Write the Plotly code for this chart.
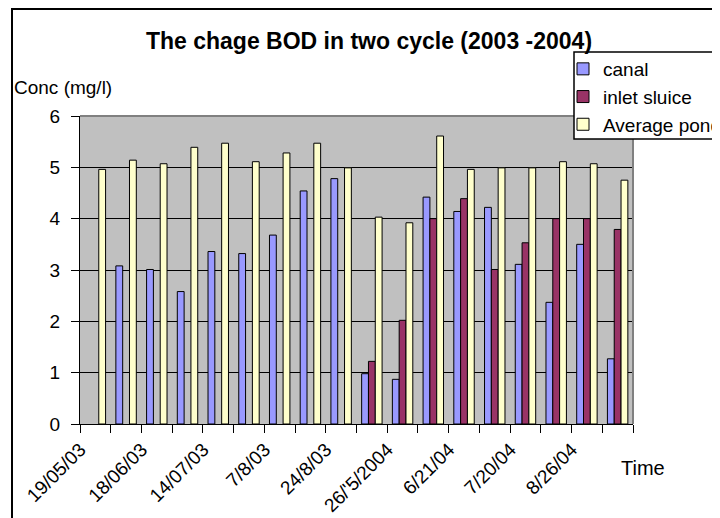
import plotly.graph_objects as go

# ---- data ----
tick_labels = ["19/05/03", "18/06/03", "14/07/03", "7/8/03", "24/8/03",
               "26/'5/2004", "6/21/04", "7/20/04", "8/26/04"]
canal = [None, 3.08, 3.01, 2.58, 3.36, 3.32, 3.68, 4.54, 4.78,
         0.98, 0.87, 4.42, 4.14, 4.22, 3.11, 2.37, 3.50, 1.27]
inlet_sluice = [None, None, None, None, None, None, None, None, None,
                1.22, 2.02, 4.00, 4.39, 3.01, 3.53, 4.00, 4.00, 3.79]
average_pond = [4.96, 5.14, 5.07, 5.39, 5.47, 5.11, 5.28, 5.47, 4.99,
                4.03, 3.92, 5.61, 4.96, 4.99, 4.99, 5.11, 5.07, 4.75]
y_ticks = [0, 1, 2, 3, 4, 5, 6]

n = len(average_pond)
x = list(range(n))

# page body adds an 8px offset; the figure is sized to fill the rest of the window
OFF = 8
W, H = 720 - OFF, 518 - OFF
L, T = 80 - OFF, 116 - OFF
R, B = W - (633 - OFF), H - (424 - OFF)
pw, ph = W - L - R, H - T - B


def px_x(p):  # window pixel -> paper x
    return (p - OFF - L) / pw


def px_y(p):  # window pixel -> paper y
    return (H - B - (p - OFF)) / ph


FONT = "Arial, Liberation Sans, sans-serif"

fig = go.Figure()
series = [("canal", canal, "#9999FF"),
          ("inlet sluice", inlet_sluice, "#993366"),
          ("Average pond", average_pond, "#FFFFCC")]
for i, (name, vals, col) in enumerate(series):
    fig.add_trace(go.Bar(x=x, y=vals, name=name, legendgroup=str(i),
                         marker=dict(color=col, line=dict(color="black", width=1))))

fig.update_layout(
    width=W, height=H,
    margin=dict(l=L, r=R, t=T, b=B, autoexpand=False),
    paper_bgcolor="white", plot_bgcolor="#C0C0C0",
    barmode="group", bargap=0.335, bargroupgap=0,
    font=dict(family=FONT, color="black", size=19),
    title=dict(text="<b>The chage BOD in two cycle (2003 -2004)</b>",
               x=(369 - OFF) / W, xref="container", xanchor="center",
               y=1 - (41 - OFF) / H, yref="container", yanchor="middle",
               font=dict(size=23, family=FONT, color="black")),
    showlegend=True,
    legend=dict(x=px_x(563), y=px_y(50), xanchor="left", yanchor="top",
                bgcolor="rgba(0,0,0,0)", borderwidth=0,
                font=dict(size=19), tracegroupgap=5, traceorder="normal"),
    xaxis=dict(range=[-0.5, n - 0.5], tickmode="array",
               tickvals=[2 * i - 0.49 for i in range(len(tick_labels))],
               ticktext=tick_labels, tickangle=-45, ticks="",
               ticklabelstandoff=6,
               showline=True, linecolor="black", linewidth=1,
               showgrid=False, zeroline=False,
               tickfont=dict(size=19),
               minor=dict(tickmode="array", tickvals=[i - 0.5 for i in range(n + 1)],
                          ticks="outside", ticklen=8, tickcolor="black", showgrid=False)),
    yaxis=dict(range=[0, 6], tickmode="array", tickvals=y_ticks,
               ticks="outside", ticklen=8, tickcolor="black",
               showline=True, linecolor="black", linewidth=1,
               showgrid=True, gridcolor="black", gridwidth=1, zeroline=False,
               tickfont=dict(size=19), ticklabelstandoff=7),
    shapes=[
        dict(type="line", xref="paper", yref="paper", x0=0, x1=1, y0=1, y1=1,
             line=dict(color="#808080", width=2)),
        dict(type="line", xref="paper", yref="paper", x0=1, x1=1, y0=0, y1=1,
             line=dict(color="#808080", width=2)),
        dict(type="rect", xref="paper", yref="paper", layer="above",
             x0=px_x(574), x1=px_x(760), y0=px_y(139), y1=px_y(52),
             fillcolor="white", line=dict(color="black", width=1.5)),
        dict(type="rect", xref="paper", yref="paper",
             x0=px_x(12), x1=px_x(760), y0=px_y(560), y1=px_y(9),
             line=dict(color="black", width=2)),
    ],
    annotations=[
        dict(text="Conc (mg/l)", xref="paper", yref="paper", x=px_x(12), y=px_y(87),
             xanchor="left", yanchor="middle", showarrow=False, font=dict(size=19)),
        dict(text="Time", xref="paper", yref="paper", x=px_x(619), y=px_y(468),
             xanchor="left", yanchor="middle", showarrow=False, font=dict(size=20)),
    ],
)

fig.write_html("out.html")
